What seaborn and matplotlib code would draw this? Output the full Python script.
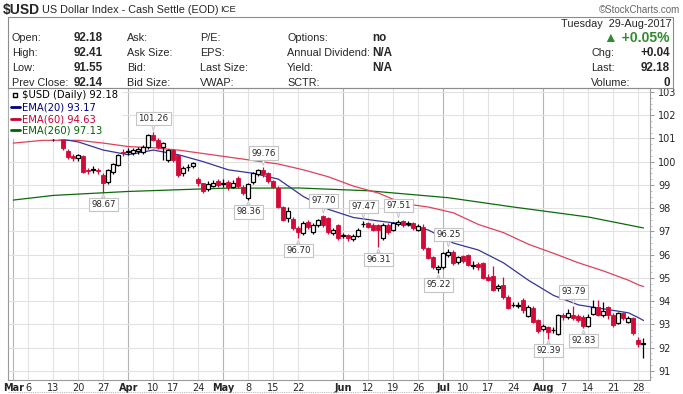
import numpy as np
import pandas as pd
import matplotlib
matplotlib.use("Agg")
import matplotlib.pyplot as plt
import seaborn as sns
from matplotlib.lines import Line2D
from matplotlib.patches import Rectangle

# -----------------------------------------
# Data: $USD daily candles, Mar 1 - Aug 29 2017
# -----------------------------------------
closed_days = ["2017-04-14", "2017-05-29", "2017-07-04"]
days = pd.bdate_range("2017-03-01", "2017-08-29")
days = days[~days.isin(pd.to_datetime(closed_days))]

opens = [101.20, 101.75, 101.95, 101.35, 101.30, 101.60, 101.85, 101.80, 101.00, 101.45,
         101.30, 100.45, 100.25, 100.15, 100.25, 99.65, 99.65, 99.65, 99.43, 99.13,
         99.56, 99.86, 100.43, 100.42, 100.38, 100.45, 100.42, 100.63, 101.15, 100.94,
         100.63, 100.07, 100.50, 100.30, 99.52, 99.76, 99.82, 99.25, 99.07, 98.83,
         98.96, 99.17, 99.05, 99.14, 98.93, 99.30, 98.90, 98.45, 99.14, 99.45,
         99.65, 99.50, 99.15, 98.86, 98.05, 97.57, 97.53, 97.14, 96.92, 97.42,
         96.99, 97.28, 97.65, 97.57, 96.92, 97.28, 96.80, 96.85, 96.67, 96.81,
         97.30, 97.35, 97.28, 97.28, 96.71, 97.28, 97.06, 97.32, 97.45, 97.33,
         97.35, 97.06, 97.20, 96.28, 95.92, 95.38, 95.49, 95.99, 96.13, 95.67,
         95.95, 95.99, 95.53, 95.60, 95.65, 95.05, 95.10, 94.55, 94.70, 94.18,
         93.82, 93.80, 94.05, 93.37, 93.70, 93.19, 92.80, 92.90, 92.74, 92.60,
         93.41, 93.31, 93.41, 93.37, 93.34, 92.94, 93.45, 93.77, 93.41, 93.74,
         93.41, 93.08, 93.48, 93.12, 93.27, 92.33, 92.18]
highs = [101.90, 102.20, 102.10, 101.60, 101.70, 102.00, 102.05, 101.95, 101.10, 101.70,
         101.40, 100.55, 100.35, 100.35, 100.30, 99.75, 99.80, 99.75, 99.50, 99.70,
         99.95, 100.35, 100.55, 100.60, 100.60, 100.65, 100.70, 101.20, 101.26, 101.00,
         100.85, 100.55, 100.55, 100.35, 99.80, 99.90, 100.00, 99.35, 99.10, 99.15,
         99.20, 99.25, 99.25, 99.20, 99.20, 99.40, 99.00, 99.10, 99.55, 99.70,
         99.76, 99.55, 99.20, 98.95, 98.10, 98.07, 97.60, 97.25, 97.45, 97.50,
         97.35, 97.55, 97.70, 97.60, 97.15, 97.30, 96.95, 96.90, 96.90, 97.15,
         97.47, 97.40, 97.35, 97.30, 97.35, 97.35, 97.40, 97.51, 97.50, 97.45,
         97.40, 97.30, 97.30, 96.35, 95.95, 95.55, 96.10, 96.25, 96.20, 95.95,
         96.00, 96.05, 95.75, 95.70, 95.70, 95.15, 95.50, 94.75, 95.05, 94.25,
         93.95, 93.95, 94.15, 93.85, 93.78, 93.25, 93.00, 92.95, 92.90, 93.45,
         93.50, 93.65, 93.79, 93.45, 93.40, 93.45, 94.05, 94.05, 93.95, 93.80,
         93.50, 93.55, 93.55, 93.35, 93.30, 92.45, 92.41]
lows = [101.15, 101.60, 101.30, 101.20, 101.20, 101.50, 101.60, 101.25, 100.90, 101.40,
        100.50, 100.10, 100.05, 100.05, 99.50, 99.45, 99.50, 99.45, 98.67, 99.05,
        99.45, 99.80, 100.25, 100.30, 100.30, 100.35, 100.35, 100.55, 100.90, 100.55,
        100.07, 100.00, 100.00, 99.35, 99.40, 99.60, 99.75, 98.95, 98.65, 98.75,
        98.90, 98.90, 98.90, 98.80, 98.85, 98.85, 98.55, 98.36, 99.05, 99.40,
        99.35, 99.10, 98.85, 98.00, 97.45, 97.42, 97.05, 96.70, 96.85, 97.10,
        96.90, 97.20, 97.20, 96.90, 96.85, 96.65, 96.70, 96.60, 96.60, 96.75,
        97.20, 97.15, 97.00, 96.31, 96.65, 96.90, 97.00, 97.25, 97.20, 97.25,
        97.05, 97.00, 96.20, 95.80, 95.40, 95.22, 95.40, 95.90, 95.55, 95.60,
        95.65, 95.50, 95.40, 95.35, 94.95, 94.85, 94.45, 94.45, 94.10, 93.65,
        93.75, 93.70, 93.50, 93.30, 93.05, 92.65, 92.70, 92.39, 92.65, 92.55,
        93.20, 93.25, 93.20, 93.10, 92.83, 92.90, 93.40, 93.35, 93.30, 93.25,
        92.90, 93.00, 93.20, 93.05, 92.55, 92.05, 91.55]
closes = [101.75, 101.95, 101.35, 101.30, 101.60, 101.85, 101.80, 101.30, 101.02, 101.60,
          100.60, 100.20, 100.16, 100.30, 99.56, 99.58, 99.66, 99.58, 99.09, 99.65,
          99.90, 100.30, 100.36, 100.44, 100.50, 100.55, 100.63, 101.15, 100.94, 100.63,
          100.80, 100.50, 100.07, 99.43, 99.73, 99.78, 99.95, 99.07, 98.75, 99.04,
          99.09, 99.00, 99.08, 98.93, 99.10, 98.95, 98.65, 99.05, 99.50, 99.65,
          99.45, 99.15, 98.93, 98.07, 97.50, 97.86, 97.14, 96.99, 97.35, 97.21,
          97.28, 97.50, 97.28, 96.99, 97.06, 96.71, 96.83, 96.71, 96.81, 97.06,
          97.32, 97.21, 97.06, 97.06, 97.28, 96.99, 97.35, 97.42, 97.28, 97.36,
          97.14, 97.24, 96.28, 95.85, 95.49, 95.45, 96.06, 96.13, 95.63, 95.89,
          95.75, 95.56, 95.56, 95.45, 95.00, 94.92, 94.50, 94.65, 94.18, 93.70,
          93.84, 93.85, 93.62, 93.77, 93.12, 92.70, 92.94, 92.69, 92.78, 93.40,
          93.31, 93.51, 93.27, 93.19, 92.94, 93.34, 93.77, 93.41, 93.58, 93.41,
          92.98, 93.48, 93.27, 93.27, 92.65, 92.14, 92.18]

# moving averages at weekly points
ema_dates = ["2017-03-01", "2017-03-09", "2017-03-20", "2017-03-27", "2017-04-03",
             "2017-04-10", "2017-04-18", "2017-04-25", "2017-05-02", "2017-05-09",
             "2017-05-16", "2017-05-23", "2017-05-31", "2017-06-07", "2017-06-14",
             "2017-06-21", "2017-06-28", "2017-07-06", "2017-07-13", "2017-07-20",
             "2017-07-27", "2017-08-03", "2017-08-10", "2017-08-17", "2017-08-24",
             "2017-08-28", "2017-08-29"]
ema20 = [101.00, 101.10, 100.85, 100.50, 100.30, 100.50, 100.30, 100.00, 99.65, 99.50,
         99.25, 98.50, 97.95, 97.60, 97.45, 97.32, 97.06, 96.50, 96.20, 95.65,
         94.90, 94.25, 93.84, 93.67, 93.50, 93.29, 93.17]
ema60 = [100.80, 100.92, 100.92, 100.80, 100.65, 100.60, 100.50, 100.35, 100.20, 100.05,
         99.90, 99.65, 99.35, 98.95, 98.65, 98.20, 98.05, 97.80, 97.30, 96.95,
         96.45, 96.06, 95.65, 95.30, 94.90, 94.70, 94.63]
ema260_dates = ["2017-03-01", "2017-03-13", "2017-04-03", "2017-05-01", "2017-05-22",
                "2017-06-12", "2017-07-05", "2017-07-24", "2017-08-14", "2017-08-29"]
ema260 = [98.35, 98.55, 98.72, 98.86, 98.87, 98.75, 98.45, 98.05, 97.62, 97.15]

# pivot labels
pivot_dates = ["2017-03-27", "2017-04-10", "2017-05-08", "2017-05-11", "2017-05-22",
               "2017-05-30", "2017-06-09", "2017-06-14", "2017-06-20", "2017-06-30",
               "2017-07-05", "2017-08-02", "2017-08-09", "2017-08-11"]
pivot_values = [98.67, 101.26, 98.36, 99.76, 96.70, 97.70, 97.47, 96.31, 97.51, 95.22,
                96.25, 92.39, 93.79, 92.83]
pivot_kind = ["low", "high", "low", "high", "low", "high", "high", "low", "high", "low",
              "high", "low", "high", "low"]

xtick_dates = ["2017-03-01", "2017-03-06", "2017-03-13", "2017-03-20", "2017-03-27",
               "2017-04-03", "2017-04-10", "2017-04-17", "2017-04-24", "2017-05-01",
               "2017-05-08", "2017-05-15", "2017-05-22", "2017-06-05", "2017-06-12",
               "2017-06-19", "2017-06-26", "2017-07-03", "2017-07-10", "2017-07-17",
               "2017-07-24", "2017-08-01", "2017-08-07", "2017-08-14", "2017-08-21",
               "2017-08-28"]
xtick_labels = ["Mar", "6", "13", "20", "27", "Apr", "10", "17", "24", "May", "8", "15",
                "22", "Jun", "12", "19", "26", "Jul", "10", "17", "24", "Aug", "7", "14",
                "21", "28"]
price_ticks = list(range(91, 104))

assert len(days) == len(opens) == len(highs) == len(lows) == len(closes)


def pos(date_list):
    return days.get_indexer(pd.to_datetime(date_list))


# -----------------------------------------
# Figure
# -----------------------------------------
sns.set_style("white")
plt.rcParams["font.family"] = ["DejaVu Sans"]
NARROW = ["Liberation Sans Narrow", "Liberation Sans", "DejaVu Sans"]

W, H = 683, 394
fig = plt.figure(figsize=(W / 100, H / 100), dpi=100)
ax = fig.add_axes([8 / W, (H - 380) / H, (650 - 8) / W, (380 - 88) / H])

RED = "#d10a38"
x = np.arange(len(days))
o, h, l, c = (np.array(v) for v in (opens, highs, lows, closes))
up = c >= o
body_lo = np.minimum(o, c)
body_h = np.maximum(np.abs(c - o), 0.015)

# grid
for d, lab in zip(pos(xtick_dates), xtick_labels):
    ax.axvline(d, color="#b4b4b4" if lab.isalpha() else "#e2e2e2", lw=0.8, zorder=0)
for p in price_ticks:
    ax.axhline(p, color="#e2e2e2", lw=0.8, zorder=0)

# moving averages
sns.lineplot(x=pos(ema260_dates), y=ema260, color="#0b6b0b", lw=0.9, ax=ax, zorder=2)
sns.lineplot(x=pos(ema_dates), y=ema60, color="#e0405a", lw=0.9, ax=ax, zorder=2)
sns.lineplot(x=pos(ema_dates), y=ema20, color="#35359a", lw=0.9, ax=ax, zorder=2)

# candles
ax.vlines(x[up], l[up], h[up], color="black", lw=0.9, zorder=3)
ax.vlines(x[~up], l[~up], h[~up], color=RED, lw=0.9, zorder=3)
ax.bar(x[up], body_h[up], bottom=body_lo[up], width=0.8, color="white",
       edgecolor="black", linewidth=0.9, zorder=4)
ax.bar(x[~up], body_h[~up], bottom=body_lo[~up], width=0.8, color=RED,
       edgecolor=RED, linewidth=0.6, zorder=4)

# pivot labels (callout boxes)
for d, v, k in zip(pos(pivot_dates), pivot_values, pivot_kind):
    dy = 7 if k == "high" else -5.5
    ax.annotate(f"{v:.2f}", xy=(d, v), xytext=(0, dy), textcoords="offset points",
                ha="center", va="bottom" if k == "high" else "top", fontsize=6.2,
                bbox=dict(boxstyle="square,pad=0.25", fc="white", ec="#c4c4c4", lw=0.8),
                arrowprops=dict(arrowstyle="wedge,tail_width=0.35,shrink_factor=0.6",
                                fc="white", ec="#c4c4c4", lw=0.7,
                                shrinkA=0, shrinkB=1.5),
                zorder=6)

ax.set_xlim(-1.06, 127.3)
ax.set_ylim(90.61, 103.17)

# axes styling
for s in ax.spines.values():
    s.set_color("#9a9a9a")
    s.set_linewidth(0.8)
ax.spines["bottom"].set_linestyle((0, (1, 1)))
ax.yaxis.tick_right()
ax.set_yticks(price_ticks)
ax.set_yticklabels([str(p) for p in price_ticks])
ax.tick_params(axis="y", length=3, width=0.6, color="#888888", labelsize=7, pad=3)
ax.set_yticks(np.arange(90.75, 103.1, 0.25), minor=True)
ax.tick_params(axis="y", which="minor", length=1.5, width=0.5, color="#aaaaaa")
ax.set_xticks(pos(xtick_dates))
ax.set_xticklabels(xtick_labels)
ax.tick_params(axis="x", length=0, labelsize=7, pad=2)
for t, lab in zip(ax.get_xticklabels(), xtick_labels):
    if lab.isalpha():
        t.set_fontweight("bold")
ax.set_xlabel("")
ax.set_ylabel("")

# legend
handles = [Line2D([], [], color="black", marker="s", ms=3.5, mfc="white", lw=0),
           Line2D([], [], color="#000080", lw=2),
           Line2D([], [], color="#cc0033", lw=2),
           Line2D([], [], color="#006400", lw=2)]
labels = [r"\$USD (Daily) 92.18", "EMA(20) 93.17", "EMA(60) 94.63", "EMA(260) 97.13"]
leg = ax.legend(handles, labels, loc="upper left", bbox_to_anchor=(0, 1),
                borderaxespad=0.05, frameon=True, framealpha=1, edgecolor="white",
                fancybox=False, fontsize=7.2, handlelength=0.9, handletextpad=0.3,
                labelspacing=0.18, borderpad=0.2)
leg.set_zorder(10)
for t, col in zip(leg.get_texts(), ["black", "#000080", "#cc0033", "#006400"]):
    t.set_color(col)

# -----------------------------------------
# Header
# -----------------------------------------
def ftext(px, py, s, **kw):
    kw.setdefault("family", NARROW)
    kw.setdefault("fontsize", 7.8)
    kw.setdefault("va", "center")
    fig.text(px / W, 1 - py / H, s, **kw)


ftext(3, 10, r"\$USD", fontsize=10, fontweight="bold")
ftext(42, 10, "US Dollar Index - Cash Settle (EOD)", fontsize=7.8)
ftext(220, 10, "ICE", fontsize=6.8)
ftext(680, 10, "\u00a9StockCharts.com", fontsize=7, color="#666666", ha="right")

fig.patches.append(Rectangle((8 / W, 1 - 88 / H), (673 - 8) / W, (88 - 17) / H,
                             transform=fig.transFigure, fill=False,
                             ec="#8c8c8c", lw=0.8))
fig.add_artist(Line2D([8 / W, 650 / W], [1 - 392 / H, 1 - 392 / H],
                      color="#bdbdbd", lw=0.8, ls=(0, (1, 1))))

rows_y = [38, 53, 68, 83]
col1 = ["Open:", "High:", "Low:", "Prev Close:"]
val1 = ["92.18", "92.41", "91.55", "92.14"]
col2 = ["Ask:", "Ask Size:", "Bid:", "Bid Size:"]
col3 = ["P/E:", "EPS:", "Last Size:", "VWAP:"]
col4 = ["Options:", "Annual Dividend:", "Yield:", "SCTR:"]
val4 = ["no", "N/A", "N/A", ""]
right_lab = ["", "Chg:", "Last:", "Volume:"]
right_val = ["", "+0.04", "92.18", "0"]

for yy, a, b, cc, dd, e, f, g, hh in zip(rows_y, col1, val1, col2, col3, col4, val4,
                                         right_lab, right_val):
    ftext(12, yy, a)
    ftext(74, yy, b, fontweight="bold", fontsize=8.4)
    ftext(127, yy, cc)
    ftext(200, yy, dd)
    ftext(287, yy, e)
    ftext(372, yy, f, fontweight="bold", fontsize=8.4)
    if g:
        ftext(591, yy, g)
        ftext(670, yy, hh, fontweight="bold", fontsize=8.4, ha="right")

ftext(672, 24, "Tuesday  29-Aug-2017", ha="right")
ftext(670, 38, "\u25b2 +0.05%", ha="right", fontsize=10, fontweight="bold",
      color="#2e8b2e")

fig.savefig("out.png", dpi=100)
